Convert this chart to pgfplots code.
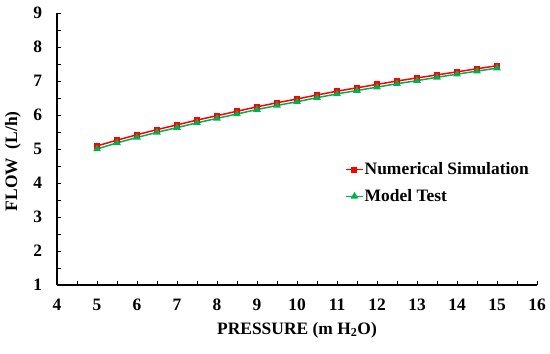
\documentclass[border=0pt]{standalone}
\usepackage{pgfplots}
\pgfplotsset{compat=1.18}
\usepackage{fontspec}
\setmainfont{Liberation Serif}
\definecolor{simred}{RGB}{255,0,0}
\definecolor{testgreen}{RGB}{0,176,80}
\begin{document}
\fontsize{17.5}{20}\selectfont\bfseries
\begin{tikzpicture}
\useasboundingbox (-57bp,-69bp) rectangle (493bp,285bp);
\begin{axis}[
  at={(0,0)}, anchor=south west,
  scale only axis, width=480bp, height=272bp,
  xmin=4, xmax=16, ymin=1, ymax=9,
  xtick={4,5,...,16}, ytick={1,2,...,9},
  minor tick num=1,
  tick align=inside,
  major tick length=4bp, minor tick length=4bp,
  every tick/.style={black, line width=1pt},
  axis x line*=bottom, axis y line*=left,
  axis line style={black, line width=1.3pt},
  /pgf/number format/assume math mode=true,
  ticklabel style={font=\fontsize{17.5}{20}\selectfont\bfseries},
  xticklabel style={yshift=-8bp},
  yticklabel style={xshift=-9bp},
  xlabel={PRESSURE (m H\textsubscript{2}O)},
  ylabel={FLOW\ \ (L/h)},
  label style={font=\fontsize{17.5}{20}\selectfont\bfseries},
  xlabel style={at={(axis description cs:0.5,-0.165)}, anchor=center},
  ylabel style={at={(axis description cs:-0.0917,0.455)}, anchor=center},
  legend style={at={(rel axis cs:0.600,0.375)}, anchor=west, draw=none, fill=none,
    font=\fontsize{17.5}{20}\selectfont\bfseries, inner sep=0pt, row sep=10bp,
    nodes={inner sep=1pt}},
  legend cell align=left,
  clip=false,
]
\addplot[color=simred, line width=1.5pt, mark=square*, mark size=2.3pt, mark options={solid, fill=simred}]
coordinates {
(5,5.09) (5.5,5.26) (6,5.42) (6.5,5.57) (7,5.71) (7.5,5.85) (8,5.98) (8.5,6.11)
(9,6.24) (9.5,6.36) (10,6.47) (10.5,6.59) (11,6.70) (11.5,6.80) (12,6.90)
(12.5,7.00) (13,7.09) (13.5,7.18) (14,7.27) (14.5,7.36) (15,7.45)};
\addlegendentry{Numerical Simulation}
\addplot[color=testgreen, line width=1.5pt, mark=triangle*, mark size=3pt, mark options={solid, fill=testgreen}]
coordinates {
(5,5.00) (5.5,5.18) (6,5.34) (6.5,5.49) (7,5.63) (7.5,5.77) (8,5.90) (8.5,6.03)
(9,6.16) (9.5,6.28) (10,6.39) (10.5,6.51) (11,6.62) (11.5,6.72) (12,6.82)
(12.5,6.92) (13,7.01) (13.5,7.11) (14,7.20) (14.5,7.29) (15,7.38)};
\addlegendentry{Model Test}
\end{axis}
\end{tikzpicture}
\end{document}
